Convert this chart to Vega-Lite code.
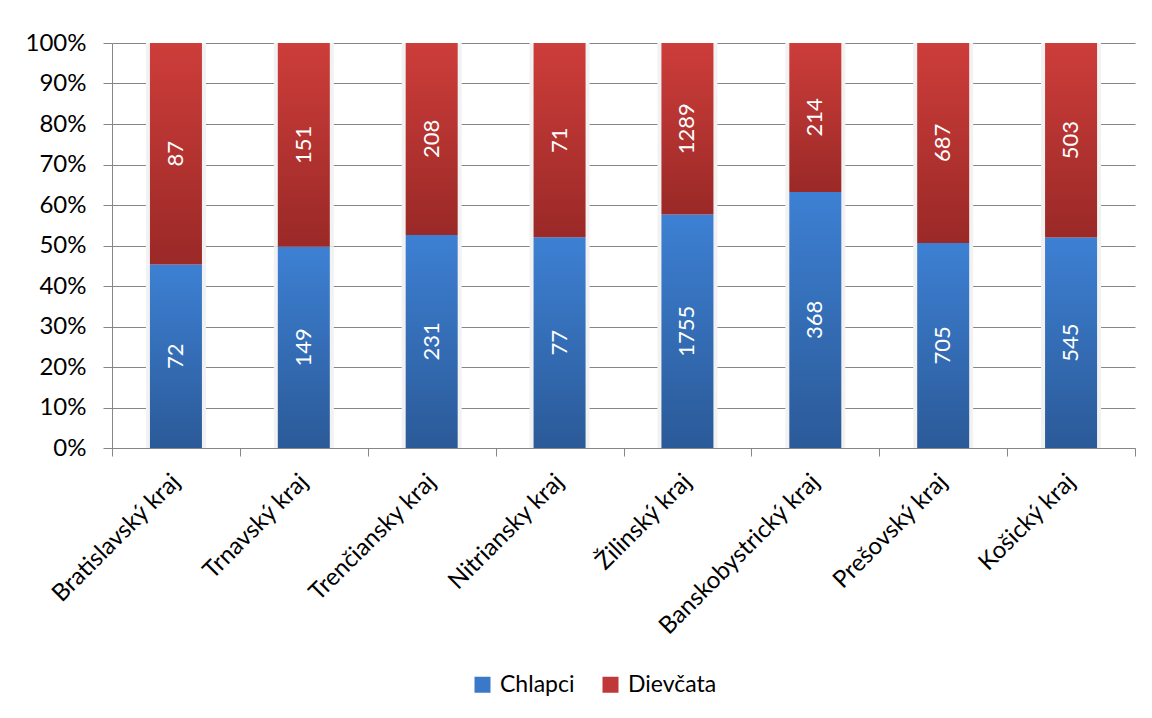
{
 "$schema": "https://vega.github.io/schema/vega-lite/v6.json",
 "width": 1023, "height": 405, "autosize": "none",
 "padding": {"left": 112, "top": 43, "right": 17, "bottom": 270},
 "background": "white",
 "config": {"font": "Lato", "view": {"stroke": null}, "axis": {"labelFont": "Lato", "labelColor": "#000000"}, "legend": {"labelFont": "Lato"}},
 "data": {"values": [
  {"kraj": "Bratislavský kraj", "series": "Chlapci", "order": 1, "value": 72},
  {"kraj": "Bratislavský kraj", "series": "Dievčata", "order": 2, "value": 87},
  {"kraj": "Trnavský kraj", "series": "Chlapci", "order": 1, "value": 149},
  {"kraj": "Trnavský kraj", "series": "Dievčata", "order": 2, "value": 151},
  {"kraj": "Trenčiansky kraj", "series": "Chlapci", "order": 1, "value": 231},
  {"kraj": "Trenčiansky kraj", "series": "Dievčata", "order": 2, "value": 208},
  {"kraj": "Nitriansky kraj", "series": "Chlapci", "order": 1, "value": 77},
  {"kraj": "Nitriansky kraj", "series": "Dievčata", "order": 2, "value": 71},
  {"kraj": "Žilinský kraj", "series": "Chlapci", "order": 1, "value": 1755},
  {"kraj": "Žilinský kraj", "series": "Dievčata", "order": 2, "value": 1289},
  {"kraj": "Banskobystrický kraj", "series": "Chlapci", "order": 1, "value": 368},
  {"kraj": "Banskobystrický kraj", "series": "Dievčata", "order": 2, "value": 214},
  {"kraj": "Prešovský kraj", "series": "Chlapci", "order": 1, "value": 705},
  {"kraj": "Prešovský kraj", "series": "Dievčata", "order": 2, "value": 687},
  {"kraj": "Košický kraj", "series": "Chlapci", "order": 1, "value": 545},
  {"kraj": "Košický kraj", "series": "Dievčata", "order": 2, "value": 503}
 ]},
 "transform": [{"stack": "value", "groupby": ["kraj"], "sort": [{"field": "order", "order": "ascending"}], "offset": "normalize", "as": ["y0", "y1"]}],
 "encoding": {
  "x": {"field": "kraj", "type": "nominal", "sort": null, "title": null,
   "scale": {"paddingInner": 0, "paddingOuter": 0},
   "axis": {"labelAngle": -45, "labelAlign": "right", "labelBaseline": "middle", "labelFontSize": 24, "labelPadding": 22, "tickBand": "extent", "tickSize": 8, "tickColor": "#868686", "domainColor": "#868686", "grid": false, "labelLimit": 400}}
 },
 "layer": [
  {"mark": {"type": "bar", "width": 60, "color": "#f2f2f2"},
   "encoding": {
    "y": {"field": "y0", "type": "quantitative", "title": null, "scale": {"domain": [0, 1], "nice": false},
     "axis": {"format": "%", "values": [0, 0.1, 0.2, 0.3, 0.4, 0.5, 0.6, 0.7, 0.8, 0.9, 1], "grid": true, "gridColor": "#868686", "gridOpacity": 1, "tickSize": 9, "tickColor": "#868686", "domainColor": "#868686", "labelFontSize": 24, "labelPadding": 17}},
    "y2": {"field": "y1"}}},
  {"transform": [{"filter": "datum.series === 'Chlapci'"}],
   "mark": {"type": "bar", "width": 52, "fill": {"gradient": "linear", "x1": 0, "y1": 0, "x2": 0, "y2": 1, "stops": [{"offset": 0, "color": "#3d80d3"}, {"offset": 1, "color": "#2b5a98"}]}},
   "encoding": {"y": {"field": "y0", "type": "quantitative", "title": null}, "y2": {"field": "y1"}}},
  {"transform": [{"filter": "datum.series === 'Dievčata'"}],
   "mark": {"type": "bar", "width": 52, "fill": {"gradient": "linear", "x1": 0, "y1": 0, "x2": 0, "y2": 1, "stops": [{"offset": 0, "color": "#cd3d3a"}, {"offset": 1, "color": "#9a2927"}]}},
   "encoding": {"y": {"field": "y0", "type": "quantitative", "title": null}, "y2": {"field": "y1"}}},
  {"mark": {"type": "square", "opacity": 0},
   "encoding": {
    "y": {"field": "y1", "type": "quantitative", "title": null},
    "color": {"field": "series", "type": "nominal", "sort": null,
     "scale": {"domain": ["Chlapci", "Dievčata"], "range": ["#3a78c8", "#c0393a"]},
     "legend": {"title": null, "orient": "none", "legendX": 359, "legendY": 630, "direction": "horizontal", "symbolType": "square", "symbolSize": 256, "symbolOpacity": 1, "symbolStrokeWidth": 0, "labelFontSize": 23, "labelColor": "#000000", "labelOffset": 6, "columnPadding": 24}}}},
  {"mark": {"type": "text", "angle": 270, "color": "white", "fontSize": 22, "baseline": "middle", "align": "center"},
   "encoding": {
    "y": {"field": "value", "type": "quantitative", "stack": "normalize", "bandPosition": 0.5, "title": null},
    "order": {"field": "order", "type": "quantitative"},
    "detail": {"field": "series"},
    "text": {"field": "value", "type": "quantitative"}}}
 ]
}
